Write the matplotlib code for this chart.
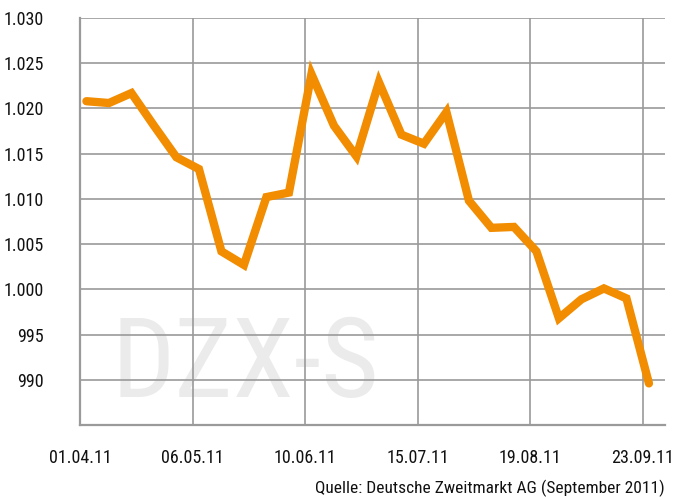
import matplotlib
matplotlib.use("Agg")
import matplotlib.pyplot as plt
from matplotlib import font_manager as fm
import pandas as pd

# Kursverlauf DZX-S, woechentlich
fechas = pd.date_range("2011-04-03", periods=26, freq="7D")
valores = [1020.8, 1020.6, 1021.7, 1018.1, 1014.6, 1013.3, 1004.2, 1002.7, 1010.2, 1010.7,
           1023.8, 1018.1, 1014.7, 1022.9, 1017.1, 1016.1, 1019.6, 1009.8, 1006.8, 1006.9,
           1004.2, 996.8, 998.9, 1000.1, 999.0, 989.6]

ticks_x = pd.to_datetime(["2011-04-01", "2011-05-06", "2011-06-10", "2011-07-15", "2011-08-19", "2011-09-23"])
labels_x = ["01.04.11", "06.05.11", "10.06.11", "15.07.11", "19.08.11", "23.09.11"]
ticks_y = [990, 995, 1000, 1005, 1010, 1015, 1020, 1025, 1030]
labels_y = ["990", "995", "1.000", "1.005", "1.010", "1.015", "1.020", "1.025", "1.030"]

# fuente estrecha si hay, si no Roboto
nombres = set(fm.fontManager.get_font_names())
estrecha = next((n for n in ["Liberation Sans Narrow", "Roboto Condensed", "Open Sans Condensed",
                             "DejaVu Sans Condensed"] if n in nombres), None)
if estrecha:
    fam, tam, tam_marca = estrecha, 13, 80
else:
    fam, tam, tam_marca = "Roboto", 11.5, 70
plt.rcParams["font.family"] = [fam, "DejaVu Sans"]

fig = plt.figure(figsize=(6.73, 5.0), dpi=100)
ax = fig.add_axes([80 / 673, 1 - 425 / 500, 585 / 673, 407 / 500])

gris = "#9a9a9a"
ax.plot(fechas, valores, color="#f28c00", lw=6, solid_capstyle="round", solid_joinstyle="miter", zorder=3)

ax.set_xlim(pd.Timestamp("2011-04-01"), pd.Timestamp("2011-09-30"))
ax.set_ylim(985, 1030)
ax.set_xticks(ticks_x)
ax.set_xticklabels(labels_x)
ax.set_yticks(ticks_y)
ax.set_yticklabels(labels_y)
ax.tick_params(length=0, labelsize=tam, colors="#111111")
ax.tick_params(axis="y", pad=26)
ax.tick_params(axis="x", pad=17)

ax.grid(True, color=gris, lw=1.2, zorder=1)
for s in ["top", "right"]:
    ax.spines[s].set_visible(False)
for s in ["left", "bottom"]:
    ax.spines[s].set_color(gris)
    ax.spines[s].set_linewidth(1.6)

# marca de agua
ax.text(0.053, 0.069, "DZX-S", transform=ax.transAxes, fontsize=tam_marca, color="#ebebeb",
        ha="left", va="baseline", zorder=0)

fig.text(665 / 673, 1 - 488 / 500, "Quelle: Deutsche Zweitmarkt AG (September 2011)",
         ha="right", va="center", fontsize=tam - 0.5, color="#111111")

fig.savefig("out.png", dpi=100)
